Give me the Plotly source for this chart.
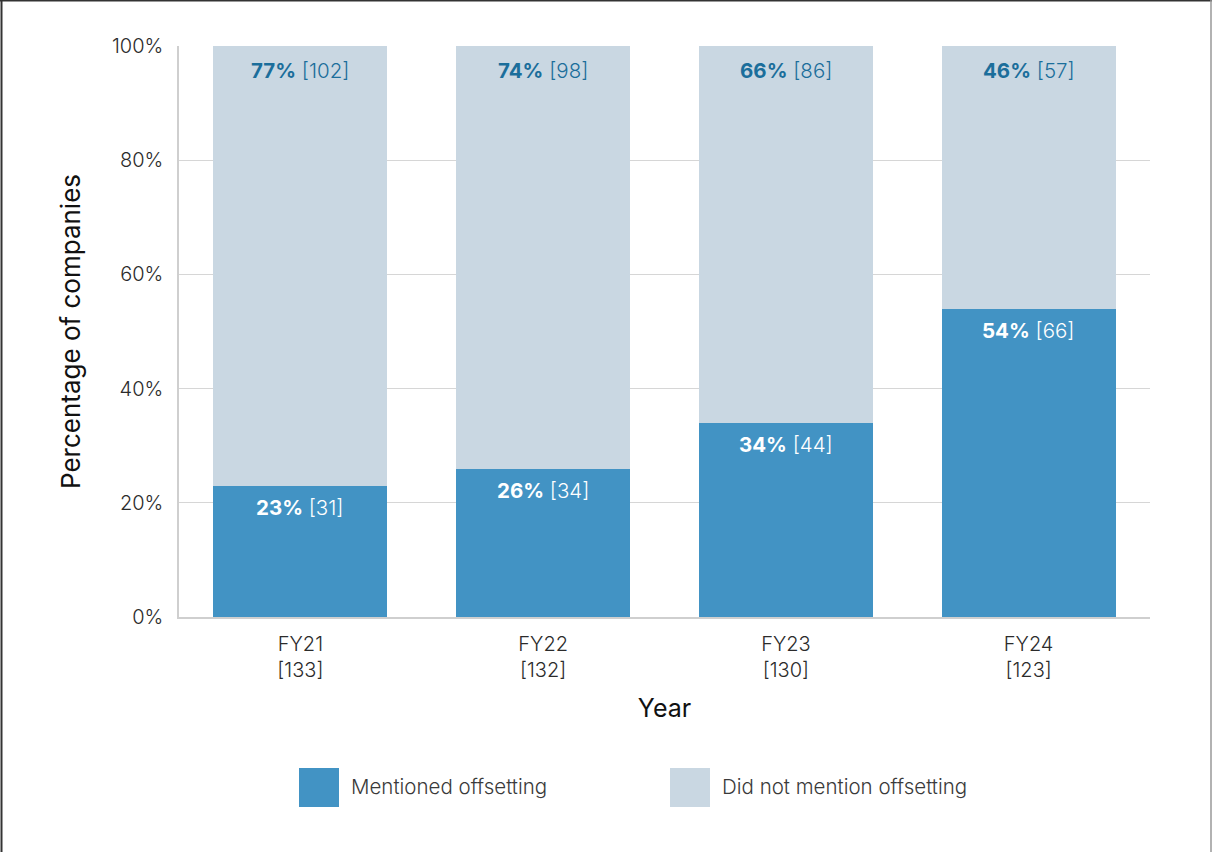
import plotly.graph_objects as go

# Survey results per financial year
years = ["FY21", "FY22", "FY23", "FY24"]
totals = [133, 132, 130, 123]
mentioned_pct = [23, 26, 34, 54]
mentioned_n = [31, 34, 44, 66]
not_mentioned_pct = [77, 74, 66, 46]
not_mentioned_n = [102, 98, 86, 57]
series_names = ["Mentioned offsetting", "Did not mention offsetting"]
y_ticks = [0, 20, 40, 60, 80, 100]

DARK = "#4293c4"
LIGHT = "#c9d7e2"
LABEL_DARK = "#1b6e9b"
FONT = "Inter, Roboto, sans-serif"
TEXT = "#2b2b2b"

x_labels = [f"{y}<br>[{t}]" for y, t in zip(years, totals)]

fig = go.Figure()
fig.add_trace(go.Bar(x=x_labels, y=mentioned_pct, name=series_names[0],
                     marker=dict(color=DARK, line=dict(width=0)), hoverinfo="skip"))
fig.add_trace(go.Bar(x=x_labels, y=not_mentioned_pct, name=series_names[1],
                     marker=dict(color=LIGHT, line=dict(width=0)), hoverinfo="skip"))

# In-bar value labels placed just below the top of each segment
for xl, p, n, q, m in zip(x_labels, mentioned_pct, mentioned_n, not_mentioned_pct, not_mentioned_n):
    fig.add_annotation(x=xl, y=p, yref="y", text=f"<b>{p}%</b> [{n}]", showarrow=False,
                       yanchor="middle", yshift=-22,
                       font=dict(family=FONT, size=20.5, color="white", weight=300))
    fig.add_annotation(x=xl, y=p + q, yref="y", text=f"<b>{q}%</b> [{m}]", showarrow=False,
                       yanchor="middle", yshift=-24,
                       font=dict(family=FONT, size=20.5, color=LABEL_DARK, weight=300))

# Legend drawn as large swatches below the chart
legend_items = [(series_names[0], DARK, 299), (series_names[1], LIGHT, 670)]
L, R, T, B = 179, 62, 46, 235
W, H = 1212 - L - R, 852 - T - B
def px_x(p):
    return (p - L) / W
def px_y(p):
    return (852 - B - p) / H
for name, col, x0 in legend_items:
    fig.add_shape(type="rect", xref="paper", yref="paper",
                  x0=px_x(x0), x1=px_x(x0 + 40), y0=px_y(807), y1=px_y(768),
                  fillcolor=col, line=dict(width=0))
    fig.add_annotation(xref="paper", yref="paper", x=px_x(x0 + 50), y=px_y(786),
                       text=name, showarrow=False, xanchor="left", yanchor="middle",
                       font=dict(family=FONT, size=20.5, color="#3a3a3a", weight=300))

# Outer frame
fig.add_shape(type="line", xref="paper", yref="paper", x0=px_x(0), x1=px_x(1212),
              y0=px_y(0.5), y1=px_y(0.5), line=dict(color="#333333", width=2))
fig.add_shape(type="line", xref="paper", yref="paper", x0=px_x(1.5), x1=px_x(1.5),
              y0=px_y(0), y1=px_y(852), line=dict(color="#333333", width=2))
fig.add_shape(type="line", xref="paper", yref="paper", x0=px_x(1211), x1=px_x(1211),
              y0=px_y(0), y1=px_y(852), line=dict(color="#999999", width=1.5))

fig.update_layout(
    barmode="stack",
    bargap=0.283,
    width=1212, height=852,
    margin=dict(l=L, r=R, t=T, b=B),
    paper_bgcolor="white", plot_bgcolor="white",
    showlegend=False,
    font=dict(family=FONT, color=TEXT),
    xaxis=dict(
        showgrid=False, showline=True, linecolor="#cfcfcf", linewidth=1.5,
        ticks="", ticklabelstandoff=8,
        tickfont=dict(size=20, color=TEXT, weight=300),
        title=dict(text="Year", font=dict(size=25, color="#111111"), standoff=19),
    ),
    yaxis=dict(
        range=[0, 100], tickvals=y_ticks, ticktext=[f"{v}%" for v in y_ticks],
        showgrid=True, gridcolor="#d6d6d6", gridwidth=1.2,
        showline=True, linecolor="#cfcfcf", linewidth=1.5,
        zeroline=False, ticks="", ticklen=0, ticklabelstandoff=10,
        tickfont=dict(size=20, color=TEXT, weight=300),
        title=dict(text="Percentage of companies", font=dict(size=26, color="#111111"), standoff=24),
    ),
)

fig.write_html("out.html")
